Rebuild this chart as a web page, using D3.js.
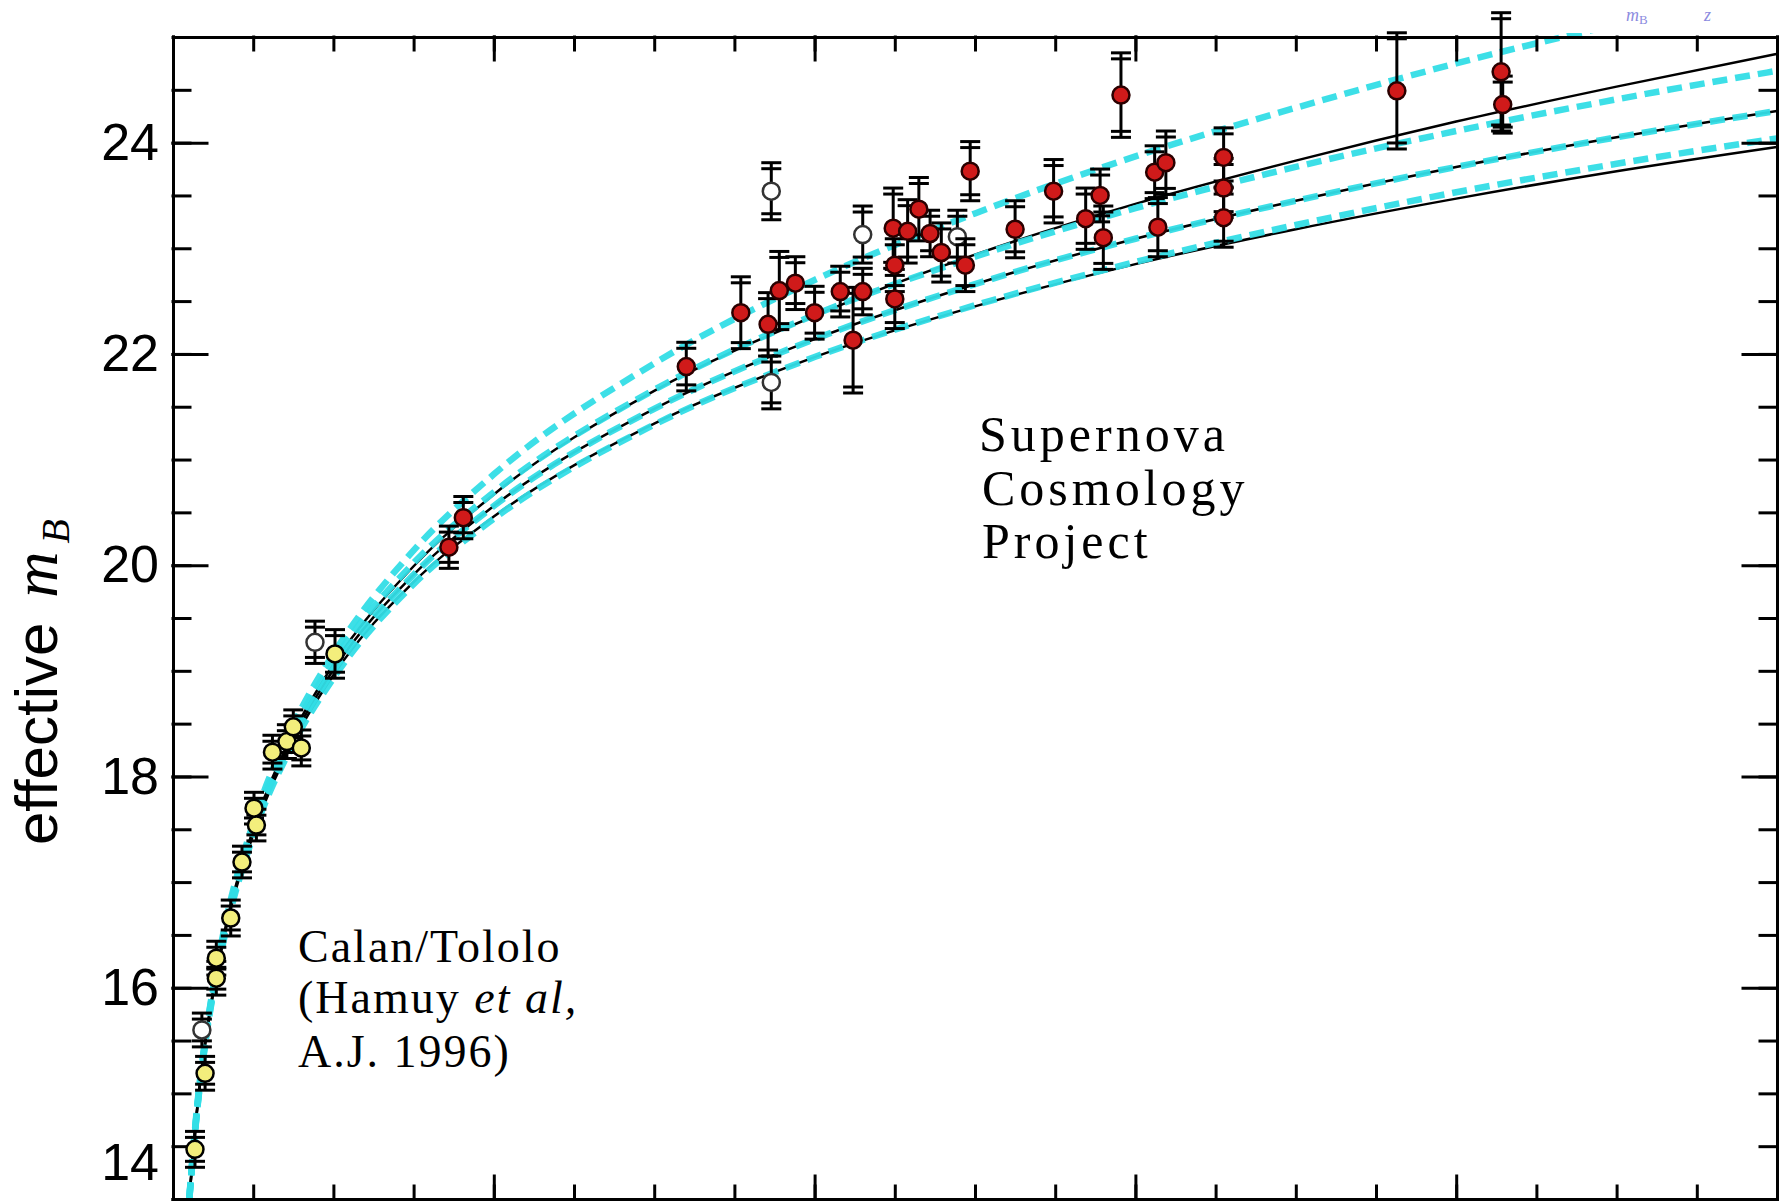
<!DOCTYPE html>
<html>
<head>
<meta charset="utf-8">
<title>Hubble diagram - effective m_B vs redshift</title>
<script src="https://cdn.jsdelivr.net/npm/d3@7"></script>
<style>
body{margin:0;background:#fff}
svg{display:block;background:#fff}
.axis path,.axis line{stroke:#000;stroke-width:3;stroke-linecap:square}
.axis text{font:52px "Liberation Sans",Arial,sans-serif;fill:#000}
.note{font-family:"Liberation Serif","Times New Roman",serif;fill:#000}
</style>
</head>
<body>
<script>
// Calan/Tololo supernovae (yellow)
const ctZ   = [0.0137, 0.020, 0.027, 0.027, 0.036, 0.043, 0.0505, 0.052, 0.062, 0.071, 0.075, 0.080, 0.101]
const ctMag = [14.47, 15.19, 16.09, 16.28, 16.66, 17.19, 17.70, 17.54, 18.23, 18.33, 18.47, 18.27, 19.16]
const ctErr = [0.17, 0.16, 0.16, 0.16, 0.17, 0.15, 0.15, 0.15, 0.16, 0.16, 0.16, 0.17, 0.23]

// Supernova Cosmology Project (red)
const scpZ   = [0.172, 0.181, 0.320, 0.354, 0.371, 0.378, 0.388, 0.400, 0.416, 0.424, 0.430, 0.449,
                0.450, 0.450, 0.458, 0.465, 0.472, 0.479, 0.494, 0.497, 0.525, 0.549, 0.569, 0.578,
                0.580, 0.591, 0.612, 0.619, 0.614, 0.655, 0.655, 0.655, 0.763, 0.828, 0.829]
const scpMag = [20.17, 20.45, 21.88, 22.39, 22.28, 22.60, 22.67, 22.39, 22.59, 22.13, 22.59, 23.19,
                22.84, 22.52, 23.16, 23.37, 23.14, 22.96, 22.84, 23.73, 23.18, 23.54, 23.28, 23.50,
                23.10, 24.45, 23.72, 23.81, 23.20, 23.86, 23.57, 23.29, 24.49, 24.67, 24.36]
const scpErr = [0.20, 0.20, 0.23, 0.34, 0.30, 0.37, 0.25, 0.25, 0.24, 0.50, 0.22, 0.38,
                0.25, 0.28, 0.30, 0.30, 0.22, 0.28, 0.25, 0.28, 0.27, 0.30, 0.29, 0.25,
                0.30, 0.40, 0.25, 0.30, 0.28, 0.28, 0.28, 0.28, 0.55, 0.56, 0.27]

// excluded points (open circles)
const openZ   = [0.018, 0.0885, 0.373, 0.373, 0.430, 0.489]
const openMag = [15.60, 19.27, 23.54, 21.73, 23.13, 23.11]
const openErr = [0.16, 0.20, 0.27, 0.25, 0.27, 0.25]

// model curves
const curveZ      = [0.0102, 0.015, 0.02, 0.03, 0.05, 0.075, 0.1, 0.15, 0.2, 0.3, 0.4, 0.5, 0.6, 0.7, 0.8, 0.9, 1.0]
const flatM0L1    = [14.02, 14.87, 15.50, 16.41, 17.56, 18.49, 19.16, 20.14, 20.86, 21.91, 22.70, 23.33, 23.87, 24.33, 24.75, 25.12, 25.46]
const flatM05L05  = [14.01, 14.85, 15.49, 16.38, 17.52, 18.43, 19.09, 20.02, 20.69, 21.66, 22.37, 22.92, 23.38, 23.77, 24.11, 24.41, 24.68]
const flatM1L0    = [14.01, 14.84, 15.47, 16.36, 17.48, 18.37, 19.01, 19.91, 20.56, 21.48, 22.14, 22.66, 23.09, 23.45, 23.77, 24.05, 24.30]
const flatM15Lm05 = [14.00, 14.83, 15.46, 16.33, 17.44, 18.31, 18.93, 19.82, 20.44, 21.33, 21.97, 22.46, 22.87, 23.22, 23.53, 23.80, 24.04]
const noLamM0     = [14.01, 14.85, 15.48, 16.37, 17.50, 18.41, 19.06, 19.99, 20.67, 21.65, 22.36, 22.94, 23.42, 23.83, 24.20, 24.53, 24.84]
const noLamM1     = flatM1L0
const noLamM2     = [14.00, 14.84, 15.46, 16.34, 17.45, 18.33, 18.96, 19.84, 20.46, 21.34, 21.97, 22.45, 22.85, 23.18, 23.47, 23.73, 23.96]

// tick values
const yMajor = [14, 16, 18, 20, 22, 24]
const yMinor = d3.range(14, 25.01, 0.5)
const xMajor = [0, 0.2, 0.4, 0.6, 0.8, 1.0]
const xMinor = d3.range(0, 1.001, 0.05)

const W = 1779, H = 1201
const svg = d3.select('body').append('svg').attr('width', W).attr('height', H)

const x = d3.scaleLinear().domain([0, 1]).range([173, 1777])
const y = d3.scaleLinear().domain([14, 25]).range([1199, 37])

svg.append('clipPath').attr('id', 'plotclip')
  .append('rect').attr('x', 173).attr('y', 33).attr('width', 1604).attr('height', 1168)

// model curves: black solid under cyan dashed
const line = d3.line().x((d, i) => x(curveZ[i])).y(d => y(d)).curve(d3.curveMonotoneX)
const curves = svg.append('g').attr('clip-path', 'url(#plotclip)')

;[noLamM0, noLamM1, noLamM2].forEach(s => {
  curves.append('path').attr('d', line(s))
    .attr('fill', 'none').attr('stroke', '#000').attr('stroke-width', 2.5)
})
;[flatM0L1, flatM05L05, flatM1L0, flatM15Lm05].forEach(s => {
  curves.append('path').attr('d', line(s))
    .attr('fill', 'none').attr('stroke', '#33dde6').attr('stroke-width', 6.5)
    .attr('stroke-dasharray', '15 8').attr('opacity', 0.95)
})

// axes, ticks pointing inwards
const addAxis = (axis, tx, ty) => svg.append('g').attr('class', 'axis')
  .attr('transform', `translate(${tx},${ty})`).call(axis)

addAxis(d3.axisBottom(x).tickValues(xMinor).tickSize(-13).tickSizeOuter(0).tickFormat(''), 0, 1199)
addAxis(d3.axisBottom(x).tickValues(xMajor).tickSize(-23).tickSizeOuter(0).tickFormat(''), 0, 1199)
addAxis(d3.axisTop(x).tickValues(xMinor).tickSize(-13).tickSizeOuter(0).tickFormat(''), 0, 37)
addAxis(d3.axisTop(x).tickValues(xMajor).tickSize(-23).tickSizeOuter(0).tickFormat(''), 0, 37)
addAxis(d3.axisRight(y).tickValues(yMinor).tickSize(-17).tickSizeOuter(0).tickFormat(''), 1777, 0)
addAxis(d3.axisRight(y).tickValues(yMajor).tickSize(-34).tickSizeOuter(0).tickFormat(''), 1777, 0)
addAxis(d3.axisLeft(y).tickValues(yMinor).tickSize(-17).tickSizeOuter(0).tickFormat(''), 173, 0)
const yAx = addAxis(d3.axisLeft(y).tickValues(yMajor).tickSize(-34).tickSizeOuter(0).tickPadding(14), 173, 0)
// bottom label would fall off the edge, lift it
yAx.selectAll('.tick text').filter(d => d === 14).attr('dy', '-0.38em')

// error bars with double caps, then markers
const drawPoints = (zs, ms, es, fill, stroke) => {
  const g = svg.append('g')
  zs.forEach((z, i) => {
    const cx = x(z), lo = y(ms[i] - es[i]), hi = y(ms[i] + es[i])
    g.append('line').attr('x1', cx).attr('x2', cx).attr('y1', lo).attr('y2', hi)
      .attr('stroke', '#000').attr('stroke-width', 3)
    ;[[hi, 6], [lo, -6]].forEach(([cy, off]) => {
      ;[cy, cy + off].forEach(v => g.append('line')
        .attr('x1', cx - 10).attr('x2', cx + 10).attr('y1', v).attr('y2', v)
        .attr('stroke', '#000').attr('stroke-width', 3))
    })
  })
  zs.forEach((z, i) => {
    g.append('circle').attr('cx', x(z)).attr('cy', y(ms[i])).attr('r', 8.5)
      .attr('fill', fill).attr('stroke', stroke).attr('stroke-width', 2.5)
  })
}
drawPoints(openZ, openMag, openErr, '#fff', '#333')
drawPoints(ctZ, ctMag, ctErr, '#f3ee7c', '#000')
drawPoints(scpZ, scpMag, scpErr, '#d01a1a', '#2a0000')

// y axis title
const yt = svg.append('text').attr('transform', 'translate(57,845) rotate(-90)')
  .style('font-family', '"Liberation Sans",Arial,sans-serif').style('font-size', '60px')
yt.append('tspan').text('effective')
yt.append('tspan').attr('dx', 25).style('font-family', '"Liberation Serif",serif')
  .style('font-style', 'italic').style('font-size', '64px').text('m')
yt.append('tspan').attr('dx', 8).attr('dy', 12).style('font-family', '"Liberation Serif",serif')
  .style('font-style', 'italic').style('font-size', '40px').text('B')

// annotations
const scp = svg.append('text').attr('class', 'note').style('font-size', '50px').style('letter-spacing', '4px')
scp.append('tspan').attr('x', 979).attr('y', 451).text('Supernova')
scp.append('tspan').attr('x', 982).attr('y', 505).text('Cosmology')
scp.append('tspan').attr('x', 982).attr('y', 558).text('Project')

const ct = svg.append('text').attr('class', 'note').style('font-size', '46px').style('letter-spacing', '2px')
ct.append('tspan').attr('x', 298).attr('y', 962).text('Calan/Tololo')
const l2 = ct.append('tspan').attr('x', 298).attr('y', 1013)
l2.append('tspan').text('(Hamuy ')
l2.append('tspan').style('font-style', 'italic').text('et al,')
ct.append('tspan').attr('x', 298).attr('y', 1067).text('A.J. 1996)')

// faint label at the top edge
const tc = svg.append('text').attr('x', 1626).attr('y', 21)
  .style('font-family', '"Liberation Serif",serif').style('font-size', '18px').attr('fill', '#8c8ce0')
tc.append('tspan').style('font-style', 'italic').text('m')
tc.append('tspan').attr('dy', 3).style('font-size', '13px').text('B')
tc.append('tspan').attr('x', 1704).attr('dy', -3).style('font-style', 'italic').text('z')
</script>
</body>
</html>
